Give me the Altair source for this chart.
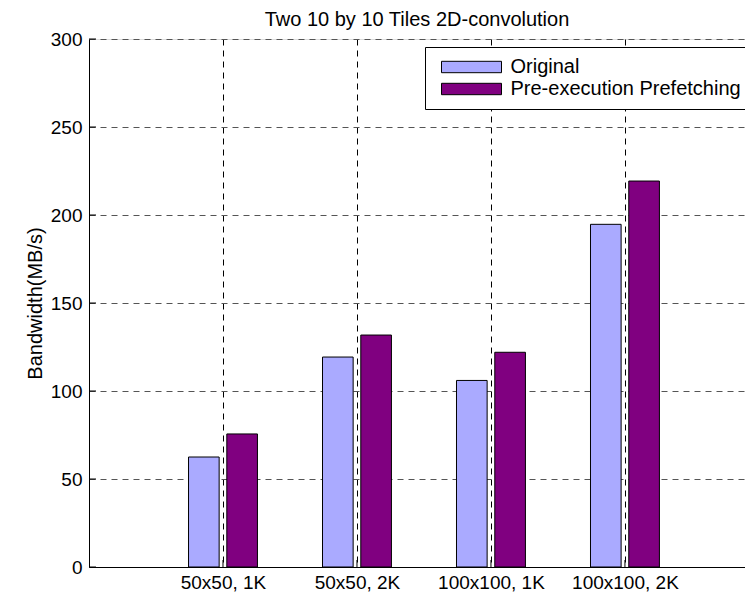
import json
import altair as alt
import pandas as pd

# ---- data ----
categories = ["50x50, 1K", "50x50, 2K", "100x100, 1K", "100x100, 2K"]
original = [62.5, 119.3, 106.0, 194.7]
prefetch = [75.6, 131.8, 122.0, 219.3]
series = ["Original", "Pre-execution Prefetching"]
colors = ["#AAAAFF", "#800080"]
y_ticks = [0, 50, 100, 150, 200, 250, 300]
x_ticks = [1, 2, 3, 4]

# MATLAB grouped-bar geometry (in x data units)
offsets = [-0.1429, 0.1429]
half_w = 0.1143

rows = []
for i, cat in enumerate(categories):
    pos = i + 1
    for s, vals, off in zip(series, [original, prefetch], offsets):
        rows.append({"category": cat, "series": s, "value": vals[i],
                     "x0": pos + off - half_w, "x1": pos + off + half_w})
df = pd.DataFrame(rows)

W, H = 656, 528
XMAX = 4.896
FONT = "Liberation Sans"
FS_TICK = 19
FS = 20

x_scale = alt.Scale(domain=[0, XMAX], nice=False, zero=False)
y_scale = alt.Scale(domain=[0, 300], nice=False)
label_expr = json.dumps(categories) + "[datum.value - 1]"

bars = alt.Chart(df).mark_rect(stroke="black", strokeWidth=1).encode(
    x=alt.X("x0:Q", scale=x_scale,
            axis=alt.Axis(values=x_ticks, labelExpr=label_expr, title=None,
                          grid=True, gridDash=[6, 5], gridColor="black",
                          gridWidth=1, ticks=False, labelPadding=6,
                          domainColor="black", labelColor="black",
                          labelFont=FONT, labelFontSize=FS_TICK)),
    x2="x1:Q",
    y=alt.Y("value:Q", scale=y_scale,
            axis=alt.Axis(values=y_ticks, title="Bandwidth(MB/s)", grid=True,
                          gridDash=[6, 5], gridColor="#555555", gridWidth=1,
                          ticks=False, labelPadding=7, domainColor="black",
                          labelColor="black", labelFont=FONT,
                          labelFontSize=FS_TICK,
                          titleFont=FONT, titleFontSize=FS,
                          titleFontWeight="normal", titleColor="black",
                          titlePadding=5)),
    y2=alt.datum(0),
    color=alt.Color("series:N", scale=alt.Scale(domain=series, range=colors),
                    legend=alt.Legend(
                        title=None, orient="none", legendX=336, legendY=8,
                        padding=10, strokeColor="black", fillColor="white",
                        symbolType="M-5,-0.95L5,-0.95L5,0.95L-5,0.95Z",
                        symbolSize=144, symbolOffset=26.5,
                        symbolStrokeColor="black",
                        symbolStrokeWidth=1, symbolOpacity=1,
                        labelFont=FONT, labelFontSize=FS, labelColor="black",
                        labelLimit=400, labelOffset=29, rowPadding=2)),
)

ytick_df = pd.DataFrame({"t": y_ticks})
yticks = alt.Chart(ytick_df).mark_rule(color="black", strokeWidth=1).encode(
    y=alt.Y("t:Q", scale=y_scale),
    x=alt.value(0), x2=alt.value(7),
)
xtick_df = pd.DataFrame({"p": x_ticks})
xticks = alt.Chart(xtick_df).mark_rule(color="black", strokeWidth=1).encode(
    x=alt.X("p:Q", scale=x_scale),
    y=alt.value(H), y2=alt.value(H - 7),
)

chart = alt.layer(bars, yticks, xticks).properties(
    width=W, height=H,
    title=alt.TitleParams("Two 10 by 10 Tiles 2D-convolution", font=FONT,
                          fontSize=FS, fontWeight="normal", color="black",
                          offset=0, anchor="middle", frame="group"),
    autosize=alt.AutoSizeParams(type="none"),
    padding={"left": 81, "top": 31, "right": 0, "bottom": 26},
).configure_view(stroke=None).configure(background="white")

chart.save("out.html", embed_options={"renderer": "svg", "actions": False})
